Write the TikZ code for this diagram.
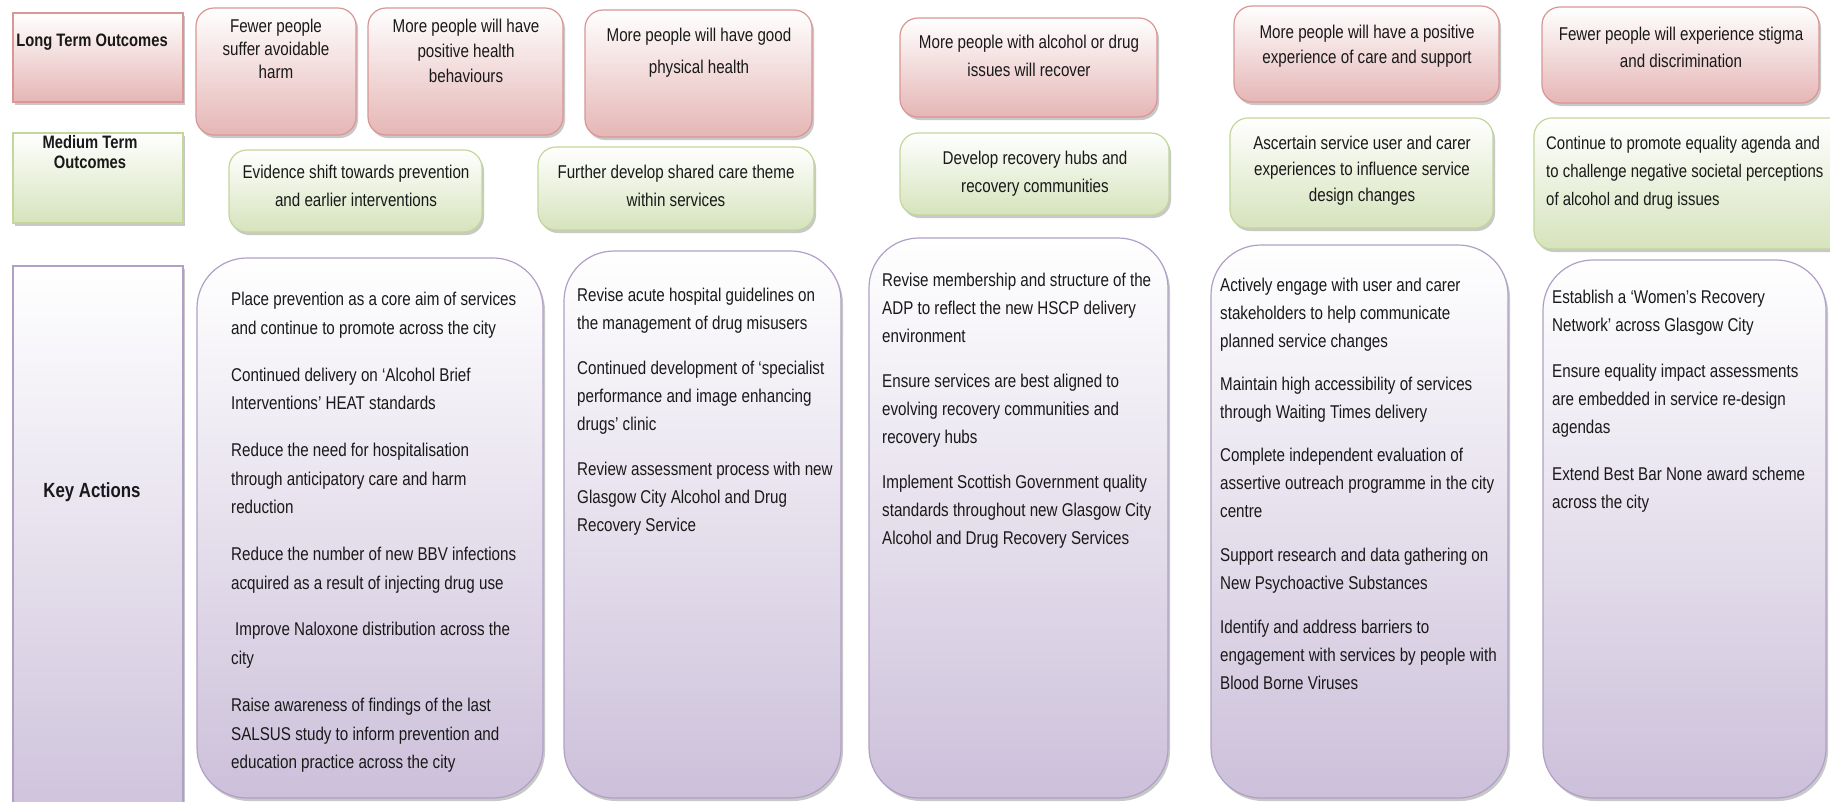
\documentclass[tikz,border=0pt]{standalone}
\usepackage{fontspec}
\setmainfont{Liberation Sans}[FakeStretch=0.82]
\usetikzlibrary{shadows,fit}

\definecolor{pinkline}{RGB}{217,150,148}
\definecolor{pinkfill}{RGB}{229,182,181}
\definecolor{greenline}{RGB}{195,214,155}
\definecolor{greenfill}{RGB}{214,227,188}
\definecolor{purpleline}{RGB}{176,160,198}
\definecolor{purplefill}{RGB}{204,192,218}

\tikzset{
  card/.style={draw, line width=1.2pt, inner sep=0pt,
    drop shadow={shadow xshift=2pt, shadow yshift=-3pt, opacity=0.3, fill=black!70}},
  pinkcard/.style={card, draw=pinkline, top color=white, bottom color=pinkfill},
  greencard/.style={card, draw=greenline, top color=white, bottom color=greenfill},
  purplecard/.style={card, draw=purpleline, top color=white, bottom color=purplefill},
  outcome/.style={rounded corners=18pt},
  action/.style={rounded corners=50pt},
  txt/.style={inner sep=0pt, text=black!90, font=\fontsize{18.5}{28}\selectfont,
    align=center, anchor=north},
  listtxt/.style={txt, align=left, anchor=north west},
  head/.style={inner sep=0pt, text=black!90, font=\fontsize{18}{27}\selectfont\bfseries,
    align=center},
}

\begin{document}
\begin{tikzpicture}[x=1pt,y=1pt]
\useasboundingbox (0,0) rectangle (1830,-801);
\fill[white] (0,0) rectangle (1830,-801);
\clip (0,0) rectangle (1830,-801);

% ---- row headings ----
\node[pinkcard, fit={(13,-13) (183,-102)}] (lto) {};
\node[greencard, fit={(13,-133) (183,-223)}] (mto) {};
\node[purplecard, fit={(13,-266) (183,-840)}] (ka) {};
\node[head] (ltot) at (92,-42) {Long Term Outcomes};
\node[head, font=\fontsize{18}{20}\selectfont\bfseries] (mtot) at (90,-152) {Medium Term\\Outcomes};
\node[head, font=\fontsize{20.5}{27}\selectfont\bfseries] (kat) at (92,-492) {Key Actions};

% ---- long term outcomes ----
\node[pinkcard, outcome, fit={(196,-8) (356,-135)}] (lo1) {};
\node[pinkcard, outcome, fit={(368,-8) (563,-135)}] (lo2) {};
\node[pinkcard, outcome, fit={(585,-10) (812,-137)}] (lo3) {};
\node[pinkcard, outcome, fit={(900,-18) (1157,-117)}] (lo4) {};
\node[pinkcard, outcome, fit={(1234,-6) (1499,-102)}] (lo5) {};
\node[pinkcard, outcome, fit={(1542,-7) (1819,-103)}] (lo6) {};

\node[txt, font=\fontsize{18.5}{23}\selectfont] (lo1t) at (276,-19) {Fewer people\\suffer avoidable\\harm};
\node[txt, font=\fontsize{18.5}{25}\selectfont] (lo2t) at (466,-19) {More people will have\\positive health\\behaviours};
\node[txt, font=\fontsize{18.5}{32}\selectfont] (lo3t) at (699,-28) {More people will have good\\physical health};
\node[txt] (lo4t) at (1029,-35) {More people with alcohol or drug\\issues will recover};
\node[txt, font=\fontsize{18.5}{24.5}\selectfont] (lo5t) at (1367,-25) {More people will have a positive\\experience of care and support};
\node[txt, font=\fontsize{18.5}{27}\selectfont] (lo6t) at (1681,-27) {Fewer people will experience stigma\\and discrimination};

% ---- medium term outcomes ----
\node[greencard, outcome, fit={(229,-150) (482,-232)}] (mo1) {};
\node[greencard, outcome, fit={(538,-147) (814,-230)}] (mo2) {};
\node[greencard, outcome, fit={(900,-133) (1169,-215)}] (mo3) {};
\node[greencard, outcome, fit={(1230,-118) (1493,-228)}] (mo4) {};
\node[greencard, outcome, fit={(1534,-118) (1860,-249)}] (mo5) {};

\node[txt] (mo1t) at (356,-165) {Evidence shift towards prevention\\and earlier interventions};
\node[txt] (mo2t) at (676,-165) {Further develop shared care theme\\within services};
\node[txt] (mo3t) at (1035,-151) {Develop recovery hubs and\\recovery communities};
\node[txt, font=\fontsize{18.5}{26}\selectfont] (mo4t) at (1362,-136) {Ascertain service user and carer\\experiences to influence service\\design changes};
\node[listtxt, font=\fontsize{18.2}{28}\selectfont] (mo5t) at (1546,-136) {Continue to promote equality agenda and\\to challenge negative societal perceptions\\of alcohol and drug issues};

% ---- key actions ----
\node[purplecard, action, fit={(197,-258) (543,-798)}] (ka1) {};
\node[purplecard, action, fit={(564,-251) (841,-798)}] (ka2) {};
\node[purplecard, action, fit={(869,-238) (1168,-798)}] (ka3) {};
\node[purplecard, action, fit={(1211,-245) (1508,-798)}] (ka4) {};
\node[purplecard, action, fit={(1543,-260) (1826,-798)}] (ka5) {};

\node[listtxt, font=\fontsize{18.5}{28.7}\selectfont] (ka1t) at (231,-292) {Place prevention as a core aim of services\\
and continue to promote across the city\\[18pt]
Continued delivery on ‘Alcohol Brief\\
Interventions’ HEAT standards\\[18pt]
Reduce the need for hospitalisation\\
through anticipatory care and harm\\
reduction\\[18pt]
Reduce the number of new BBV infections\\
acquired as a result of injecting drug use\\[18pt]
\hspace{4pt}Improve Naloxone distribution across the\\
city\\[18pt]
Raise awareness of findings of the last\\
SALSUS study to inform prevention and\\
education practice across the city};

\node[listtxt] (ka2t) at (577,-288) {Revise acute hospital guidelines on\\
the management of drug misusers\\[17pt]
Continued development of ‘specialist\\
performance and image enhancing\\
drugs’ clinic\\[17pt]
Review assessment process with new\\
Glasgow City Alcohol and Drug\\
Recovery Service};

\node[listtxt] (ka3t) at (882,-273) {Revise membership and structure of the\\
ADP to reflect the new HSCP delivery\\
environment\\[17pt]
Ensure services are best aligned to\\
evolving recovery communities and\\
recovery hubs\\[17pt]
Implement Scottish Government quality\\
standards throughout new Glasgow City\\
Alcohol and Drug Recovery Services};

\node[listtxt] (ka4t) at (1220,-278) {Actively engage with user and carer\\
stakeholders to help communicate\\
planned service changes\\[15pt]
Maintain high accessibility of services\\
through Waiting Times delivery\\[15pt]
Complete independent evaluation of\\
assertive outreach programme in the city\\
centre\\[16pt]
Support research and data gathering on\\
New Psychoactive Substances\\[16pt]
Identify and address barriers to\\
engagement with services by people with\\
Blood Borne Viruses};

\node[listtxt] (ka5t) at (1552,-290) {Establish a ‘Women’s Recovery\\
Network’ across Glasgow City\\[18pt]
Ensure equality impact assessments\\
are embedded in service re-design\\
agendas\\[19pt]
Extend Best Bar None award scheme\\
across the city};
\end{tikzpicture}
\end{document}
